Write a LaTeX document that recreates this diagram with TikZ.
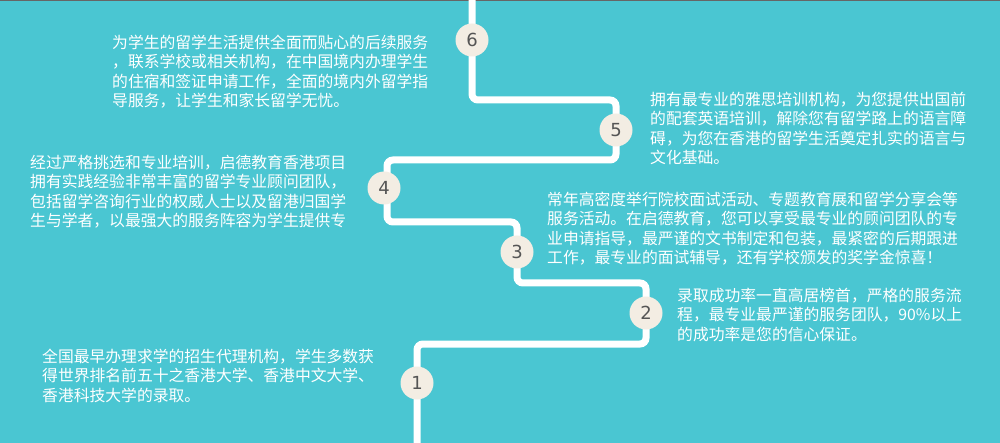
\documentclass[tikz,border=0pt]{standalone}
\usepackage{fontspec}
\newfontfamily\cjk{Noto Sans CJK SC}
\setmainfont{DejaVu Sans}
\usetikzlibrary{positioning}
\definecolor{bgteal}{HTML}{4AC6D2}
\definecolor{dotfill}{HTML}{F3EDE3}
\definecolor{numgray}{HTML}{555555}
\tikzset{
  stepdot/.style={circle, fill=dotfill, minimum size=33pt, inner sep=0pt,
    font=\fontsize{18}{18}\selectfont, text=numgray},
  blurb/.style={align=left, text=white, inner sep=0pt, anchor=north west,
    font=\cjk\fontsize{15.8}{19.3}\selectfont},
  track/.style={white, line width=7pt, rounded corners=6pt}
}
\begin{document}
\begin{tikzpicture}[x=1pt,y=-1pt]
  \fill[bgteal] (0,0) rectangle (1000,443);
  \useasboundingbox (0,0) rectangle (1000,443);
  \fill[black!60] (0,0) rectangle (1000,1.5);
  %the track
  \coordinate (start) at (417,443);
  \coordinate (stop) at (472,0);
  \draw[track] (start) |- (646,344) |- (517,283) |- (387,222)
    |- (616,160) |- (472,100) -- (stop);
  %the steps
  \node[stepdot] (s1) at (417,383) {1};
  \node[stepdot] (s2) at (646,313) {2};
  \node[stepdot] (s3) at (517,252) {3};
  \node[stepdot] (s4) at (384,188) {4};
  \node[stepdot] (s5) at (616,130) {5};
  \node[stepdot] (s6) at (472,40) {6};
  %the texts
  \node[blurb] (t6) at (112,35) {为学生的留学生活提供全面而贴心的后续服务\\，联系学校或相关机构，在中国境内办理学生\\的住宿和签证申请工作，全面的境内外留学指\\导服务，让学生和家长留学无忧。};
  \node[blurb] (t5) at (650,92) {拥有最专业的雅思培训机构，为您提供出国前\\的配套英语培训，解除您有留学路上的语言障\\碍，为您在香港的留学生活奠定扎实的语言与\\文化基础。};
  \node[blurb] (t4) at (30,155) {经过严格挑选和专业培训，启德教育香港项目\\拥有实践经验非常丰富的留学专业顾问团队，\\包括留学咨询行业的权威人士以及留港归国学\\生与学者，以最强大的服务阵容为学生提供专};
  \node[blurb] (t3) at (547,192) {常年高密度举行院校面试活动、专题教育展和留学分享会等\\服务活动。在启德教育，您可以享受最专业的顾问团队的专\\业申请指导，最严谨的文书制定和包装，最紧密的后期跟进\\工作，最专业的面试辅导，还有学校颁发的奖学金惊喜！};
  \node[blurb] (t2) at (677,288) {录取成功率一直高居榜首，严格的服务流\\程，最专业最严谨的服务团队，90\%以上\\的成功率是您的信心保证。};
  \node[blurb] (t1) at (42,349) {全国最早办理求学的招生代理机构，学生多数获\\得世界排名前五十之香港大学、香港中文大学、\\香港科技大学的录取。};
\end{tikzpicture}
\end{document}
